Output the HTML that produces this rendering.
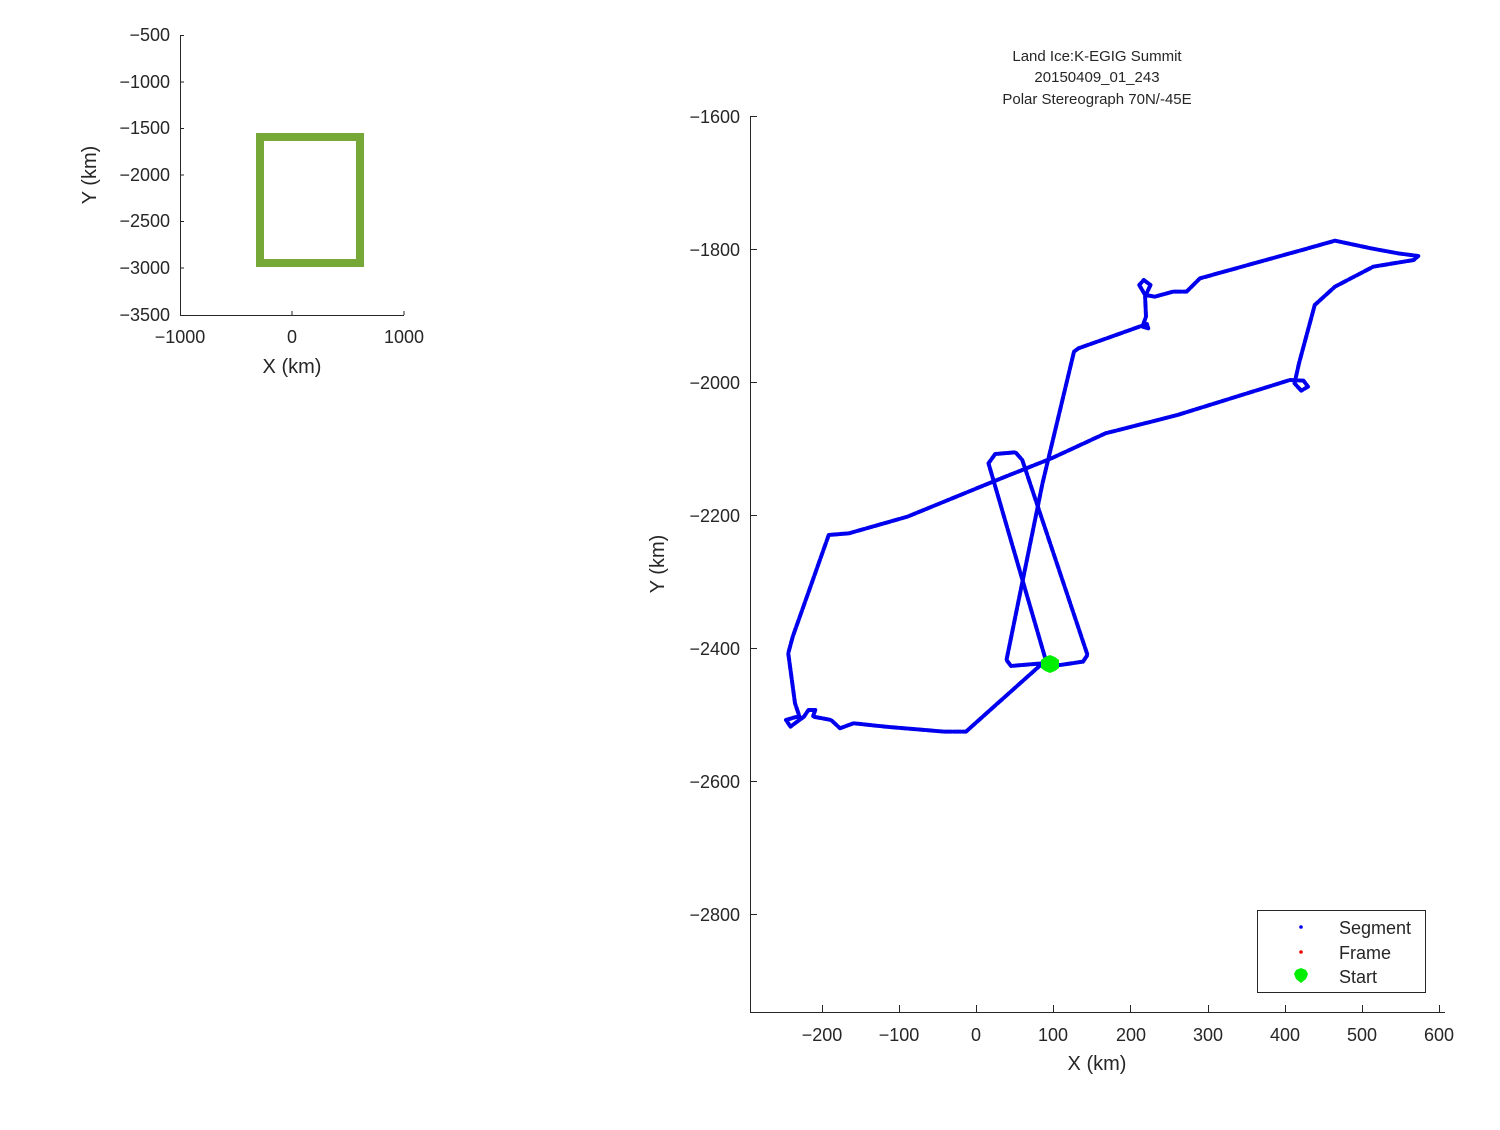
<!DOCTYPE html>
<html><head><meta charset="utf-8"><style>
body{margin:0;background:#fff;}
svg text{font-family:"Liberation Sans","DejaVu Sans",sans-serif;fill:#262626;}
</style></head><body>
<svg width="1500" height="1125" xmlns="http://www.w3.org/2000/svg">
<rect width="1500" height="1125" fill="#fff"/>
<!-- inset axes -->
<g stroke="#262626" stroke-width="1" fill="none">
<path d="M180.5,35 V315.5 H404"/>
<path d="M180,35.5 h4 M180,82 h4 M180,128.5 h4 M180,175 h4 M180,221.5 h4 M180,268 h4"/>
<path d="M292,315 v-4 M404,315 v-4"/>
</g>
<g font-size="18" text-anchor="end">
<text x="170" y="41">−500</text><text x="170" y="88">−1000</text><text x="170" y="134">−1500</text>
<text x="170" y="181">−2000</text><text x="170" y="227">−2500</text><text x="170" y="274">−3000</text><text x="170" y="321">−3500</text>
</g>
<g font-size="18" text-anchor="middle">
<text x="180" y="343">−1000</text><text x="292" y="343">0</text><text x="404" y="343">1000</text>
<text x="292" y="373" font-size="20">X (km)</text>
</g>
<text transform="translate(96,175) rotate(-90)" font-size="20" text-anchor="middle">Y (km)</text>
<rect x="260" y="137" width="100" height="126" fill="none" stroke="#76a838" stroke-width="8"/>

<!-- main axes -->
<g stroke="#262626" stroke-width="1" fill="none">
<path d="M750.5,116 V1012.5 H1445"/>
<path d="M750,116.5 h7 M750,249.5 h7 M750,382.5 h7 M750,515.5 h7 M750,648.5 h7 M750,781.5 h7 M750,914.5 h7"/>
<path d="M822.5,1012 v-7 M899.5,1012 v-7 M976.5,1012 v-7 M1053.5,1012 v-7 M1130.5,1012 v-7 M1208.5,1012 v-7 M1285.5,1012 v-7 M1362.5,1012 v-7 M1439.5,1012 v-7"/>
</g>
<g font-size="18" text-anchor="end">
<text x="740" y="123">−1600</text><text x="740" y="256">−1800</text><text x="740" y="389">−2000</text>
<text x="740" y="522">−2200</text><text x="740" y="655">−2400</text><text x="740" y="788">−2600</text><text x="740" y="921">−2800</text>
</g>
<g font-size="18" text-anchor="middle">
<text x="822" y="1041">−200</text><text x="899" y="1041">−100</text><text x="976" y="1041">0</text>
<text x="1053" y="1041">100</text><text x="1131" y="1041">200</text><text x="1208" y="1041">300</text>
<text x="1285" y="1041">400</text><text x="1362" y="1041">500</text><text x="1439" y="1041">600</text>
<text x="1097" y="1070" font-size="20">X (km)</text>
</g>
<text transform="translate(664,564) rotate(-90)" font-size="20" text-anchor="middle">Y (km)</text>
<g font-size="15" text-anchor="middle">
<text x="1097" y="61">Land Ice:K-EGIG Summit</text>
<text x="1097" y="82">20150409_01_243</text>
<text x="1097" y="104">Polar Stereograph 70N/-45E</text>
</g>

<g transform="translate(750,230) scale(0.45,0.3333)" fill="none" stroke="#0000ee" stroke-width="4" stroke-linejoin="round" stroke-linecap="round" stroke-dasharray="7 2">
<polyline vector-effect="non-scaling-stroke" points="650,1300 480,1505 430,1505 300,1490 230,1480 200,1495 180,1470 140,1460 145,1440 130,1440 120,1460 90,1490 80,1470 100,1462 110,1460 100,1420 85,1270 95,1220 175,915 220,910 350,860 540,755 670,685 790,610 950,555 1200,450 1230,452 1240,470 1225,482 1210,460 1220,400 1255,225 1300,170 1385,110 1475,90 1485,78 1440,70 1380,55 1300,32 1240,55 1000,145 970,185 940,185 900,200 878,195 865,165 875,150 890,165 878,200 880,260 872,290 885,295 882,282 730,355 720,365 650,760 570,1290 580,1308 650,1300"/>
<polyline vector-effect="non-scaling-stroke" points="655,1280 530,700 545,672 590,667 605,690 750,1275 740,1295 690,1305 672,1305"/>
</g>
<polygon points="1050,655 1055,657 1059,660 1059,668 1055,671 1050,673 1045,671 1041,668 1041,660 1045,657" fill="#00ee00"/>

<!-- legend -->
<rect x="1257.5" y="910.5" width="168" height="82" fill="#fff" stroke="#262626" stroke-width="1"/>
<circle cx="1301" cy="927" r="1.8" fill="#0000ee"/>
<circle cx="1301" cy="952" r="1.8" fill="#ee0000"/>
<polygon points="1301,968 1306,970 1308,974 1306,979 1301,983 1296,979 1294,974 1296,970" fill="#00ee00"/>
<g font-size="18"><text x="1339" y="934">Segment</text><text x="1339" y="959">Frame</text><text x="1339" y="983">Start</text></g>
</svg>
</body></html>
